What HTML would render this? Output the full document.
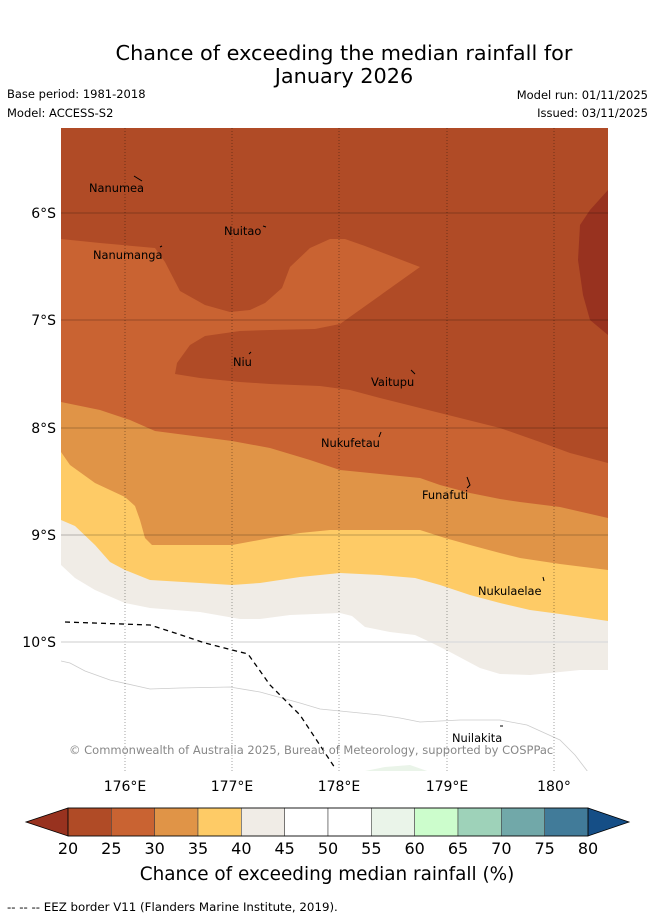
<!DOCTYPE html>
<html><head><meta charset="utf-8"><style>
body{margin:0;background:#fff;font-family:"Liberation Sans","DejaVu Sans",sans-serif;}
svg text{font-family:"DejaVu Sans","Liberation Sans",sans-serif;}
</style></head><body>
<svg width="655" height="919" viewBox="0 0 655 919" xmlns="http://www.w3.org/2000/svg">
<text x="344" y="60" font-size="20.8" text-anchor="middle">Chance of exceeding the median rainfall for</text>
<text x="344" y="83" font-size="20.8" text-anchor="middle">January 2026</text>
<text x="7" y="98" font-size="11.5">Base period: 1981-2018</text>
<text x="7" y="117" font-size="11.5">Model: ACCESS-S2</text>
<text x="648" y="99" font-size="11.5" text-anchor="end">Model run: 01/11/2025</text>
<text x="648" y="117" font-size="11.5" text-anchor="end">Issued: 03/11/2025</text>
<defs><clipPath id="mc"><rect x="61" y="128" width="547" height="643"/></clipPath></defs>
<g clip-path="url(#mc)">
<rect x="61" y="128" width="547" height="643" fill="#fff"/>
<polygon fill="#f0ece6" points="61,128 608,128 608,670 580,670 560,672 530,675 500,674 480,668 450,652 430,642 415,635 390,632 365,627 352,616 340,613 290,615 260,619 240,619 200,612 150,608 125,603 95,590 75,578 61,565"/>
<polygon fill="#fecb66" points="61,128 608,128 608,621 560,614 530,610 500,603 470,595 440,585 415,578 380,575 340,573 300,577 260,583 232,585 200,583 150,580 125,570 110,562 95,545 75,526 61,520"/>
<polygon fill="#e09447" points="61,128 608,128 608,570 560,564 520,558 500,553 470,545 445,538 420,530 330,530 300,533 270,538 232,545 152,545 145,538 140,520 135,506 125,497 95,483 70,465 61,452"/>
<polygon fill="#c96332" points="61,128 608,128 608,518 560,507 520,502 500,499 470,493 440,485 420,478 380,474 340,470 310,460 270,448 232,441 155,431 130,420 100,410 61,402"/>
<polygon fill="#b04b26" points="61,128 608,128 608,463 570,453 540,442 500,428 460,418 420,408 380,398 350,390 320,386 270,384 240,382 200,378 175,374 177,363 190,345 205,336 240,331 270,330 315,329 340,324 420,267 365,246 345,239 330,239 310,248 290,267 282,288 265,303 250,310 230,312 205,305 180,291 165,262 155,248 100,243 61,239"/>
<polygon fill="#98321f" points="608,190 590,210 580,225 578,260 583,295 590,320 608,335"/>
<polygon fill="#eaf4e9" points="360,772 385,767 410,765 430,772"/>
<polyline fill="none" stroke="#ccc" stroke-width="0.8" points="61,661 70,663 85,671 110,680 150,689 180,688 230,687 260,692 300,703 320,709 350,712 380,715 400,718 420,722 460,720 500,720 527,725 560,740 575,755 588,772"/>
<g>
<g stroke="#000" stroke-opacity="0.45" stroke-width="0.8" stroke-dasharray="1,2">
<line x1="125" y1="128" x2="125" y2="771"/><line x1="232" y1="128" x2="232" y2="771"/><line x1="339" y1="128" x2="339" y2="771"/><line x1="447" y1="128" x2="447" y2="771"/><line x1="554" y1="128" x2="554" y2="771"/>
</g>
<g stroke="#000" stroke-opacity="0.25" stroke-width="1">
<line x1="61" y1="213" x2="608" y2="213"/><line x1="61" y1="320" x2="608" y2="320"/><line x1="61" y1="428" x2="608" y2="428"/><line x1="61" y1="535" x2="608" y2="535"/>
</g>
<line x1="61" y1="642" x2="608" y2="642" stroke="#ddd" stroke-width="1.5"/>
</g>
<polyline fill="none" stroke="#000" stroke-width="1.3" stroke-dasharray="5,4" points="65,622 150,625 175,633 205,643 248,654 270,685 300,715 335,768"/>
<g font-size="11.4" fill="#000">
<text x="89" y="192">Nanumea</text><path d="M134,176 l8,5" stroke="#000"/>
<text x="224" y="235">Nuitao</text><path d="M263,226 l3,1" stroke="#000"/>
<text x="93" y="259">Nanumanga</text><path d="M160,247 l2,-1" stroke="#000"/>
<text x="233" y="366">Niu</text><path d="M249,354 l2,-2" stroke="#000"/>
<text x="371" y="386">Vaitupu</text><path d="M411,370 l4,4" stroke="#000"/>
<text x="321" y="447">Nukufetau</text><path d="M379,437 l2,-5" stroke="#000"/>
<text x="422" y="499">Funafuti</text><path d="M467,477 l3,8 l-3,3" stroke="#000" fill="none"/>
<text x="478" y="595">Nukulaelae</text><path d="M543,577 l1,4" stroke="#000"/>
<text x="452" y="742">Nuilakita</text><path d="M500,726 l3,0" stroke="#000"/>
</g>
<text x="69" y="754" font-size="11.5" fill="#888">© Commonwealth of Australia 2025, Bureau of Meteorology, supported by COSPPac</text>
</g>
<g font-size="14">
<text x="56" y="218" text-anchor="end">6°S</text><text x="56" y="325" text-anchor="end">7°S</text><text x="56" y="433" text-anchor="end">8°S</text><text x="56" y="540" text-anchor="end">9°S</text><text x="56" y="647" text-anchor="end">10°S</text>
</g>
<g font-size="14" text-anchor="middle">
<text x="125" y="791">176°E</text><text x="232" y="791">177°E</text><text x="339" y="791">178°E</text><text x="447" y="791">179°E</text><text x="554" y="791">180°</text>
</g>
<g id="cbar"></g>
<text x="327" y="880" font-size="18.4" text-anchor="middle">Chance of exceeding median rainfall (%)</text>
<text x="7" y="911" font-size="11.8">-- -- -- EEZ border V11 (Flanders Marine Institute, 2019).</text>
</svg>
<script>
const cbTicks=[20,25,30,35,40,45,50,55,60,65,70,75,80];
const cbColors=["#b04b26","#c96332","#e09447","#fecb66","#f0ece6","#ffffff","#ffffff","#eaf4e9","#ccfdcc","#9ed2b9","#71a8a9","#417b99"];
const cbUnder="#98321f", cbOver="#154e86";
const NS="http://www.w3.org/2000/svg";
const g=document.getElementById('cbar');
const x0=68,x1=588,y0=808,y1=836;
const sx=v=>x0+(v-cbTicks[0])/(cbTicks[cbTicks.length-1]-cbTicks[0])*(x1-x0);
function mk(t,a){const e=document.createElementNS(NS,t);for(const k in a)e.setAttribute(k,a[k]);g.appendChild(e);return e;}
const lt=mk('polygon',{points:`${x0},${y0} 26,${(y0+y1)/2} ${x0},${y1}`,fill:cbUnder,stroke:'#000','stroke-width':0.8});


const rt=mk('polygon',{points:`${x1},${y0} 629,${(y0+y1)/2} ${x1},${y1}`,fill:cbOver,stroke:'#000','stroke-width':0.8});


for(let i=0;i<cbColors.length;i++){
  const r=mk('rect',{x:sx(cbTicks[i]),y:y0,width:sx(cbTicks[i+1])-sx(cbTicks[i]),height:y1-y0,fill:cbColors[i],stroke:'#444','stroke-width':0.6});
  
  
}
mk('rect',{x:x0,y:y0,width:x1-x0,height:y1-y0,fill:'none',stroke:'#000','stroke-width':0.8});
cbTicks.forEach(v=>{
  const t=mk('text',{x:sx(v),y:854,'font-size':16,'text-anchor':'middle'});
  t.textContent=v;
  
  
});
</script>
</body></html>
